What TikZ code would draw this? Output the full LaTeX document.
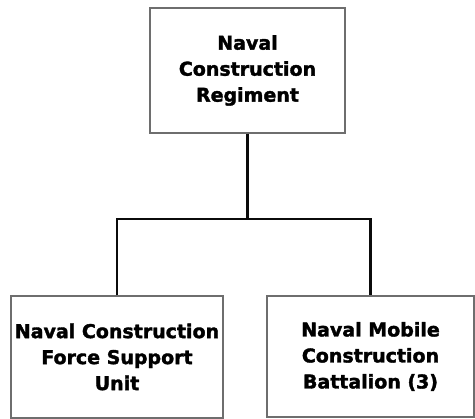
\documentclass[tikz,border=0pt]{standalone}
\usepackage{fontspec}
\setmainfont{DejaVu Sans}[BoldFeatures={FakeBold=1.8}]
\usepackage{tikz}
\usetikzlibrary{positioning}
\definecolor{orgframe}{HTML}{6E6E6E}
\definecolor{orgline}{HTML}{0B0B0B}

\begin{document}
\begin{tikzpicture}[
  x=1pt, y=-1pt,
  font=\fontsize{19pt}{26pt}\selectfont\bfseries,
  unit/.style={draw=orgframe, line width=1.2pt, fill=white, align=center, inner sep=0pt},
  link/.style={draw=orgline, line width=2.6pt}]
  \useasboundingbox (0,0) rectangle (475,419);
  \node[unit, minimum width=195pt, minimum height=125pt] (ncr) at (247.5,70.5) {Naval\\ Construction\\ Regiment};
  \node[unit, minimum width=212pt, minimum height=122pt] (ncfsu) at (117,357) {Naval Construction\\ Force Support\\ Unit};
  \node[unit, minimum width=207pt, minimum height=121pt] (nmcb) at (370.5,356.5) {Naval Mobile\\ Construction\\ Battalion (3)};
  \coordinate (split) at (ncr.south |- 0,219);
  \draw[link] (ncr.south) -- (split);
  \draw[link] (ncfsu.north) |- (split) -| (nmcb.north);
\end{tikzpicture}
\end{document}
